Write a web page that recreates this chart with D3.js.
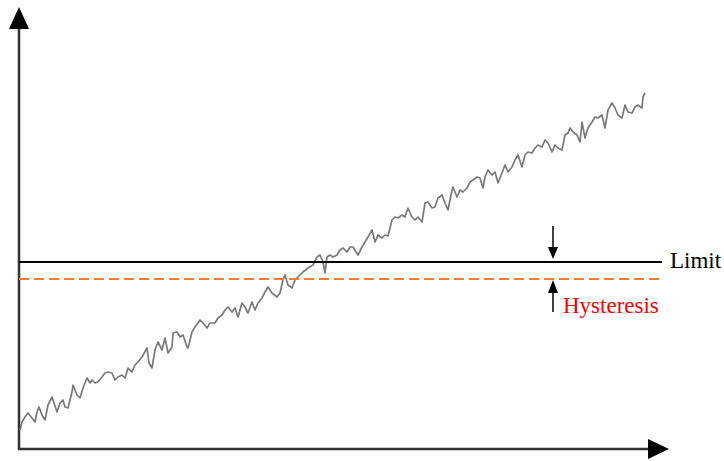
<!DOCTYPE html>
<html>
<head>
<meta charset="utf-8">
<script src="https://cdn.jsdelivr.net/npm/d3@7"></script>
<style>
  html, body { margin: 0; padding: 0; background: #fff; }
  svg { display: block; }
</style>
</head>
<body>
<svg id="chart" width="724" height="461"></svg>
<script>
// ---- data (time, signal value) ----
const times = [1,3,6,9,13,16,18,20,23,26,29,33,35,38,41,44,46,49,53,54,58,61,64,68,71,73,76,79,83,86,89,93,96,99,103,106,109,113,116,119,123,128,130,133,136,139,143,146,149,153,154,158,161,164,168,169,173,176,181,184,188,191,196,199,203,206,209,213,216,219,223,226,229,233,236,239,243,246,249,253,258,261,264,266,269,273,276,279,284,289,294,298,301,304,306,308,311,314,318,321,324,328,331,334,339,343,346,349,353,356,359,363,366,369,373,376,379,383,386,389,393,396,399,403,406,409,413,416,419,423,426,429,433,434,438,441,444,448,451,454,458,461,464,466,469,473,476,479,483,486,489,493,496,499,503,506,509,513,516,519,523,526,529,533,536,539,543,546,549,551,554,558,561,563,566,569,573,576,579,583,586,589,593,596,599,603,606,609,613,616,619,623,624,626];
const values = [19,27,32,36,31,27,37,42,34,29,44,52,46,37,46,49,42,41,57,64,54,51,61,71,66,69,66,67,72,76,77,76,69,72,74,71,81,77,84,87,92,101,86,81,99,107,99,111,96,102,116,117,112,114,102,101,117,122,129,126,121,126,126,131,134,139,142,137,141,132,146,142,136,147,139,146,151,157,162,156,152,156,169,174,164,161,169,172,177,181,184,192,194,187,176,192,194,192,194,199,201,197,202,202,194,202,207,212,219,207,214,211,214,213,229,232,231,234,232,241,232,229,232,227,246,247,241,242,251,254,246,239,259,262,252,259,257,261,267,269,272,271,261,272,279,274,277,266,276,284,277,282,289,294,282,294,297,296,301,304,302,309,306,297,304,301,299,314,316,321,317,314,307,327,311,321,327,332,331,334,321,339,346,341,334,331,344,337,336,342,344,341,352,356];
const limitValue = [187];
const hysteresisValue = [170];
const labels = ["Limit", "Hysteresis"];

const svg = d3.select("#chart");
const x = d3.scaleLinear().domain([0, 650]).range([19, 669]);
const y = d3.scaleLinear().domain([0, 442]).range([449, 7]);

const axisColor = "#333";

// y axis
svg.append("line").attr("x1", x(0)).attr("x2", x(0)).attr("y1", y(420)).attr("y2", y(0) + 1)
  .attr("stroke", axisColor).attr("stroke-width", 2.5);
svg.append("path")
  .attr("d", `M${x(0)},${y(442)} L${x(0) - 10},${y(420)} L${x(0) + 10},${y(420)} Z`)
  .attr("fill", "#000");

// x axis
svg.append("line").attr("x1", x(0) - 1).attr("x2", x(630)).attr("y1", y(0)).attr("y2", y(0))
  .attr("stroke", axisColor).attr("stroke-width", 2.5);
svg.append("path")
  .attr("d", `M${x(650)},${y(0)} L${x(629)},${y(0) - 10} L${x(629)},${y(0) + 10} Z`)
  .attr("fill", "#000");

// signal
const pts = times.map((t, i) => [t, values[i]]);
svg.append("path")
  .datum(pts)
  .attr("fill", "none")
  .attr("stroke", "#7a7a7a")
  .attr("stroke-width", 1.7)
  .attr("stroke-linejoin", "round")
  .attr("d", d3.line().x(d => x(d[0])).y(d => y(d[1])));

// limit line
svg.append("line").attr("x1", x(0)).attr("x2", x(643)).attr("y1", y(limitValue[0])).attr("y2", y(limitValue[0]))
  .attr("stroke", "#000").attr("stroke-width", 2);
// hysteresis line
svg.append("line").attr("x1", x(0)).attr("x2", x(643)).attr("y1", y(hysteresisValue[0])).attr("y2", y(hysteresisValue[0]))
  .attr("stroke", "#f47c2c").attr("stroke-width", 2).attr("stroke-dasharray", "10,5");

// arrows
const ax = x(534);
svg.append("line").attr("x1", ax).attr("x2", ax).attr("y1", y(limitValue[0] + 36)).attr("y2", y(limitValue[0] + 10))
  .attr("stroke", "#000").attr("stroke-width", 1.5);
svg.append("path")
  .attr("d", `M${ax},${y(limitValue[0]) - 3} L${ax - 5},${y(limitValue[0] + 15)} L${ax + 5},${y(limitValue[0] + 15)} Z`)
  .attr("fill", "#000");
svg.append("line").attr("x1", ax).attr("x2", ax).attr("y1", y(hysteresisValue[0] - 10)).attr("y2", y(hysteresisValue[0] - 33))
  .attr("stroke", "#000").attr("stroke-width", 1.5);
svg.append("path")
  .attr("d", `M${ax},${y(hysteresisValue[0]) + 1} L${ax - 5},${y(hysteresisValue[0] - 14)} L${ax + 5},${y(hysteresisValue[0] - 14)} Z`)
  .attr("fill", "#000");

// labels
svg.append("text").attr("x", x(651)).attr("y", y(limitValue[0]) + 6)
  .attr("font-family", "Liberation Serif, Times New Roman, serif").attr("font-size", 23)
  .attr("fill", "#000").text(labels[0]);
svg.append("text").attr("x", x(544)).attr("y", y(hysteresisValue[0]) + 34)
  .attr("font-family", "Liberation Serif, Times New Roman, serif").attr("font-size", 23)
  .attr("fill", "#ff0000").text(labels[1]);
</script>
</body>
</html>
